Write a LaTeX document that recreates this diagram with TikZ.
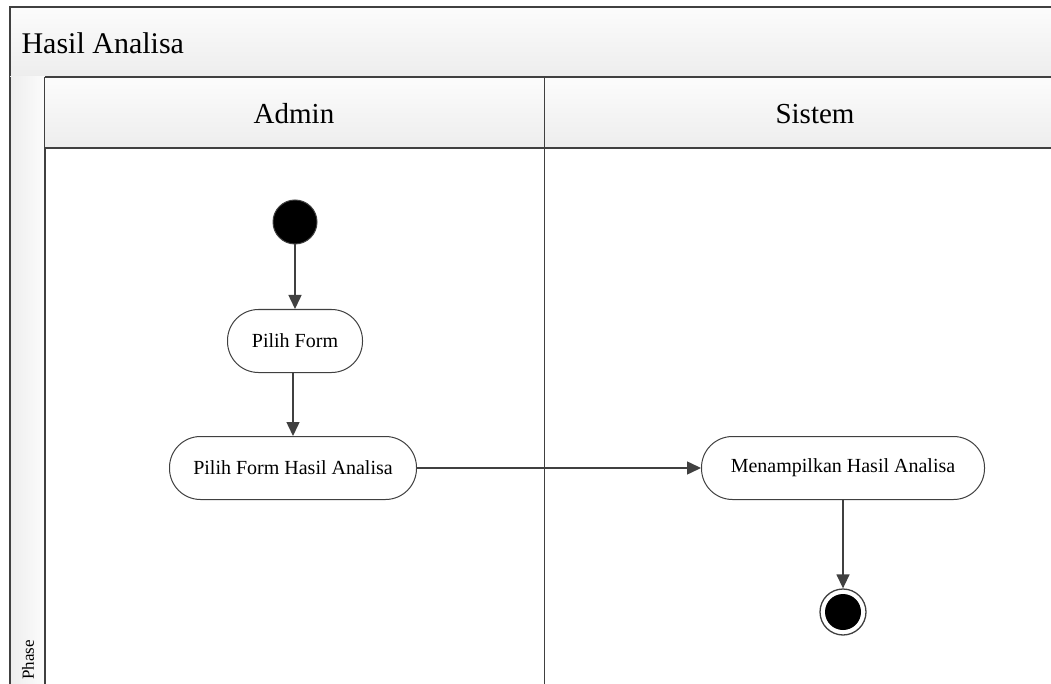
\documentclass[tikz,border=0pt]{standalone}
\usepackage{fontspec}
\setmainfont{Liberation Serif}
\usetikzlibrary{arrows.meta}
\definecolor{lineg}{HTML}{404040}
\definecolor{hdtop}{HTML}{FCFCFC}
\definecolor{hdbot}{HTML}{EDEDED}
\tikzset{
  hdr/.style={top color=hdtop,bottom color=hdbot,draw=lineg,line width=1.3pt},
  act/.style={rectangle,rounded corners=31pt,draw=lineg,line width=1pt,fill=white,minimum height=63pt,font=\fontsize{20}{24}\selectfont,inner sep=0pt},
  flow/.style={draw=lineg,line width=1.5pt,-{Triangle[length=14pt,width=13pt]}},
}
\begin{document}
\begin{tikzpicture}[x=1pt,y=-1pt]
\useasboundingbox (0,0) rectangle (1051,684);
% title bar
\fill[top color=hdtop,bottom color=hdbot] (10,7) rectangle (1060,77);
\draw[lineg,line width=1.3pt] (1060,7) -- (10,7) -- (10,690);
\draw[lineg,line width=1.3pt] (10,77) -- (1060,77);
\node[anchor=west,font=\fontsize{30}{34}\selectfont] (title) at (18,43) {Hasil Analisa};
% phase column
\fill[left color=hdbot,right color=hdtop] (10,77) rectangle (45,690);
\draw[lineg,line width=1.3pt] (10,77) -- (10,690);
\draw[lineg,line width=1.3pt] (45,77) -- (45,690);
\node[rotate=90,anchor=west,font=\fontsize{17}{19}\selectfont,inner sep=2pt] (phase) at (28,682) {Phase};
% lane headers
\fill[top color=hdtop,bottom color=hdbot] (45,77) rectangle (1060,148);
\draw[lineg,line width=1.3pt] (45,77) -- (1060,77);
\draw[lineg,line width=1.3pt] (45,148) -- (1060,148);
\draw[lineg,line width=1pt] (544,77) -- (544,690);
\node[font=\fontsize{29}{33}\selectfont] (admin) at (294,114) {Admin};
\node[font=\fontsize{29}{33}\selectfont] (sistem) at (815,114) {Sistem};
% nodes
\node[circle,fill=black,draw=lineg,line width=1pt,minimum size=44pt,inner sep=0] (start) at (295,222) {};
\node[act,minimum width=135pt] (pf) at (295,341) {Pilih Form};
\node[act,minimum width=247pt] (pfh) at (293,468) {Pilih Form Hasil Analisa};
\node[act,minimum width=283pt] (mha) at (843,468) {Menampilkan Hasil Analisa};
\node[circle,draw=lineg,line width=1.3pt,fill=white,minimum size=46pt,inner sep=0] (end) at (843,612) {};
\node[circle,fill=black,minimum size=36pt,inner sep=0] (endin) at (843,612) {};
% flows
\draw[flow] (start) -- (pf);
\draw[flow] (pf.south -| pfh) -- (pfh);
\draw[flow] (pfh) -- (mha);
\draw[flow] (mha) -- (end);
\end{tikzpicture}
\end{document}
